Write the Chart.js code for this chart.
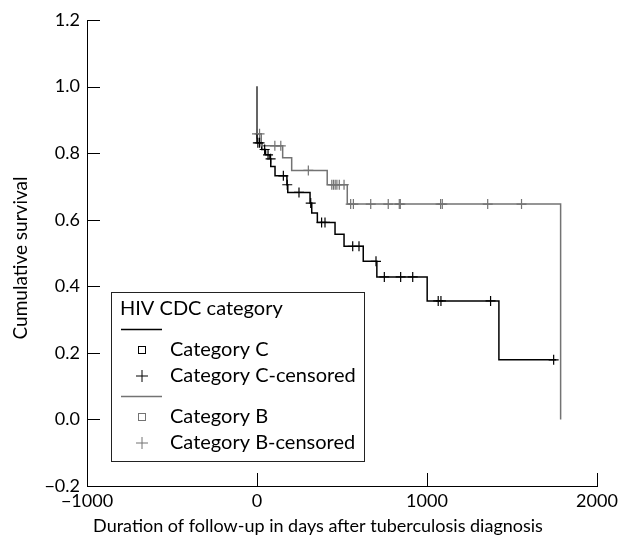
<!DOCTYPE html>
<html>
<head>
<meta charset="utf-8">
<script src="https://cdn.jsdelivr.net/npm/chart.js@4"></script>
<style>
  html, body { margin: 0; padding: 0; background: #fff; }
</style>
</head>
<body>
<canvas id="chart" width="623" height="539"></canvas>
<script>
// Kaplan-Meier steps, Category C (black)
const catCTimes = [0, 0, 28, 50, 76, 81, 106, 176, 181, 312, 322, 355, 459, 512, 625, 705, 1001, 1423, 1760];
const catCSurv = [1.0, 0.831, 0.811, 0.795, 0.783, 0.760, 0.732, 0.705, 0.682, 0.650, 0.620, 0.592, 0.556, 0.520, 0.475, 0.428, 0.356, 0.179, 0.179];
const catCCensorTimes = [5, 15, 45, 65, 80, 155, 178, 247, 316, 380, 400, 563, 600, 700, 749, 845, 916, 1066, 1082, 1374, 1745];
const catCCensorSurv = [0.831, 0.831, 0.811, 0.795, 0.783, 0.732, 0.705, 0.682, 0.650, 0.592, 0.592, 0.520, 0.520, 0.475, 0.428, 0.428, 0.428, 0.356, 0.356, 0.356, 0.179];

// Category B (grey)
const catBTimes = [0, 0, 25, 151, 204, 413, 531, 1786];
const catBSurv = [1.0, 0.858, 0.822, 0.786, 0.748, 0.705, 0.647, 0.0];
const catBCensorTimes = [0, 15, 105, 140, 302, 440, 450, 460, 470, 484, 512, 551, 567, 669, 772, 837, 843, 1080, 1090, 1357, 1556];
const catBCensorSurv = [0.858, 0.858, 0.822, 0.822, 0.748, 0.705, 0.705, 0.705, 0.705, 0.705, 0.705, 0.647, 0.647, 0.647, 0.647, 0.647, 0.647, 0.647, 0.647, 0.647, 0.647];

const xTicks = [-1000, 0, 1000, 2000];
const yTicks = [-0.2, 0.0, 0.2, 0.4, 0.6, 0.8, 1.0, 1.2];

const xTitle = 'Duration of follow-up in days after tuberculosis diagnosis';
const yTitle = 'Cumulative survival';
const legendTitle = 'HIV CDC category';
const legendLabels = ['Category C', 'Category C-censored', 'Category B', 'Category B-censored'];

const FONT = 'Lato, "DejaVu Sans", sans-serif';
const BLACK = '#000000';
const GREY = '#737373';

const toPoints = (xs, ys) => xs.map((x, i) => ({ x: x, y: ys[i] }));
const minus = s => String(s).replace('-', '\u2212');

// inward tick marks, axis titles, boxed legend
const extras = {
  id: 'extras',
  afterDraw(chart) {
    const ctx = chart.ctx;
    const { left, bottom } = chart.chartArea;
    const xs = chart.scales.x, ys = chart.scales.y;
    ctx.save();
    ctx.strokeStyle = BLACK;
    ctx.lineWidth = 1;
    ctx.beginPath();
    xTicks.forEach(v => {
      const px = Math.round(xs.getPixelForValue(v)) + 0.5;
      ctx.moveTo(px, bottom);
      ctx.lineTo(px, bottom - 13);
    });
    yTicks.forEach(v => {
      const py = Math.round(ys.getPixelForValue(v)) + 0.5;
      ctx.moveTo(left, py);
      ctx.lineTo(left + 13, py);
    });
    ctx.stroke();

    // axis titles
    ctx.fillStyle = BLACK;
    ctx.textAlign = 'center';
    ctx.textBaseline = 'middle';
    ctx.font = '18px ' + FONT;
    ctx.fillText(xTitle, 318, 526);
    ctx.save();
    ctx.translate(21, 258);
    ctx.rotate(-Math.PI / 2);
    ctx.font = '19px ' + FONT;
    ctx.fillText(yTitle, 0, 0);
    ctx.restore();

    // legend
    ctx.textAlign = 'left';
    ctx.fillStyle = '#fff';
    ctx.fillRect(111.5, 292.5, 253, 169);
    ctx.strokeStyle = '#222';
    ctx.strokeRect(111.5, 292.5, 253, 169);
    ctx.font = '20px ' + FONT;
    ctx.fillStyle = BLACK;
    ctx.fillText(legendTitle, 120, 309);

    const rows = [
      { y: 350, color: BLACK, mark: 'square', text: legendLabels[0] },
      { y: 376, color: BLACK, mark: 'cross', text: legendLabels[1] },
      { y: 417, color: GREY, mark: 'square', text: legendLabels[2] },
      { y: 443, color: GREY, mark: 'cross', text: legendLabels[3] }
    ];
    ctx.lineWidth = 1.5;
    ctx.strokeStyle = BLACK;
    ctx.beginPath(); ctx.moveTo(121, 329.5); ctx.lineTo(162, 329.5); ctx.stroke();
    ctx.strokeStyle = GREY;
    ctx.beginPath(); ctx.moveTo(121, 396.5); ctx.lineTo(162, 396.5); ctx.stroke();

    rows.forEach(r => {
      ctx.strokeStyle = r.color;
      ctx.lineWidth = 1;
      if (r.mark === 'square') {
        ctx.strokeRect(138.5, r.y - 3.5, 7, 7);
      } else {
        ctx.beginPath();
        ctx.moveTo(136, r.y); ctx.lineTo(148, r.y);
        ctx.moveTo(142, r.y - 6); ctx.lineTo(142, r.y + 6);
        ctx.stroke();
      }
      ctx.fillStyle = BLACK;
      ctx.fillText(r.text, 170, r.y);
    });
    ctx.restore();
  }
};

new Chart(document.getElementById('chart'), {
  type: 'scatter',
  data: {
    datasets: [
      {
        data: toPoints(catBTimes, catBSurv),
        showLine: true,
        stepped: true,
        borderColor: GREY,
        borderWidth: 1.5,
        pointRadius: 0,
        order: 1
      },
      {
        data: toPoints(catCTimes, catCSurv),
        showLine: true,
        stepped: true,
        borderColor: BLACK,
        borderWidth: 1.5,
        pointRadius: 0,
        order: 2
      },
      {
        data: toPoints(catBCensorTimes, catBCensorSurv),
        pointStyle: 'cross',
        pointRadius: 5,
        borderColor: GREY,
        borderWidth: 1.2,
        order: 3
      },
      {
        data: toPoints(catCCensorTimes, catCCensorSurv),
        pointStyle: 'cross',
        pointRadius: 5,
        borderColor: BLACK,
        borderWidth: 1.2,
        order: 0
      }
    ]
  },
  options: {
    responsive: false,
    animation: false,
    layout: { padding: { top: 20, right: 26, left: 0, bottom: 0 } },
    plugins: { legend: { display: false }, tooltip: { enabled: false } },
    scales: {
      x: {
        type: 'linear',
        min: -1000,
        max: 2000,
        afterBuildTicks: s => { s.ticks = xTicks.map(v => ({ value: v })); },
        afterFit: s => { s.height = 53; },
        grid: { display: false, drawTicks: false },
        border: { display: true, color: BLACK, width: 1 },
        ticks: {
          color: BLACK,
          font: { family: FONT, size: 18 },
          padding: 4,
          maxRotation: 0,
          callback: v => minus(v)
        }
      },
      y: {
        type: 'linear',
        min: -0.2,
        max: 1.2,
        afterBuildTicks: s => { s.ticks = yTicks.map(v => ({ value: v })); },
        afterFit: s => { s.width = 87; },
        grid: { display: false, drawTicks: false },
        border: { display: true, color: BLACK, width: 1 },
        ticks: {
          color: BLACK,
          font: { family: FONT, size: 18 },
          padding: 7,
          callback: v => minus(v.toFixed(1))
        }
      }
    }
  },
  plugins: [extras]
});
</script>
</body>
</html>
